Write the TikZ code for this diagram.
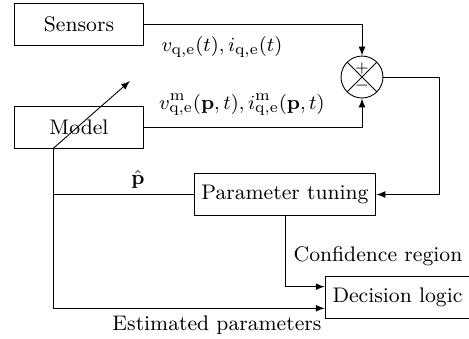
\documentclass[tikz,border=0pt]{standalone}
\usepackage{amsmath}
\usepackage{amssymb}
\usetikzlibrary{arrows,positioning,calc}

\begin{document}
\begin{tikzpicture}[scale=1, >=latex, every node/.style={font=\fontsize{9.45}{11.3}\selectfont}]
\tikzset{
    block/.style={draw, minimum height=0.65cm, inner sep=3.3pt},
    wide/.style={minimum width=2.02cm},
    sumnode/.style={draw, circle, minimum size=0.66cm, inner sep=0pt},
    conn/.style={->},
    labelnode/.style={inner sep=1pt}
}
\useasboundingbox (0,0) rectangle (7.386,5.323);

% blocks
\node[block, wide] (sens) at (1.244, 4.937) {Sensors};
\node[block, wide] (mod) at (1.244, 3.315) {Model};
\node[sumnode] (sum) at (5.701, 4.110) {};
\node[block] (tune) at (4.488, 2.260) {Parameter tuning};
\node[block] (dec) at (6.260, 0.638) {Decision logic};

% comparator
\draw (sum.north west) -- (sum.south east);
\draw (sum.north east) -- (sum.south west);
\node[font=\scriptsize, inner sep=0pt] (plus) at ([yshift=0.13cm]sum.center) {$+$};
\node[font=\scriptsize, inner sep=0pt] (minus) at ([yshift=-0.14cm]sum.center) {$-$};

% coordinates
\coordinate (tap) at (0.835, 0 |- mod.south);
\coordinate (tip) at (2.047, 4.047);
\coordinate (turn) at (6.913, 0 |- sum.east);

% signals
\draw[conn] (sens.east) -| (sum.north);
\draw[conn] (mod.east) -| (sum.south);
\draw[conn] (sum.east) -- (turn) |- (tune.east);
\draw (tune.west) -- (tap |- tune.west);
\draw[conn] (tap) -- (tip);
\draw[conn] (tap) |- ([yshift=-0.17cm]dec.west);
\draw[conn] (tune.south) |- ([yshift=0.17cm]dec.west);

% labels
\node[labelnode] (lmeas) at (3.496, 4.583) {$v_{\mathrm{q,e}}(t), i_{\mathrm{q,e}}(t)$};
\node[labelnode] (lmod) at (3.811, 3.669) {$v^{\mathrm{m}}_{\mathrm{q,e}}(\mathbf{p},t), i^{\mathrm{m}}_{\mathrm{q,e}}(\mathbf{p},t)$};
\node[labelnode] (lphat) at (2.173, 2.500) {$\hat{\mathbf{p}}$};
\node[labelnode] (lconf) at (5.953, 1.291) {Confidence region};
\node[labelnode] (lest) at (3.417, 0.205) {Estimated parameters};

\end{tikzpicture}
\end{document}
